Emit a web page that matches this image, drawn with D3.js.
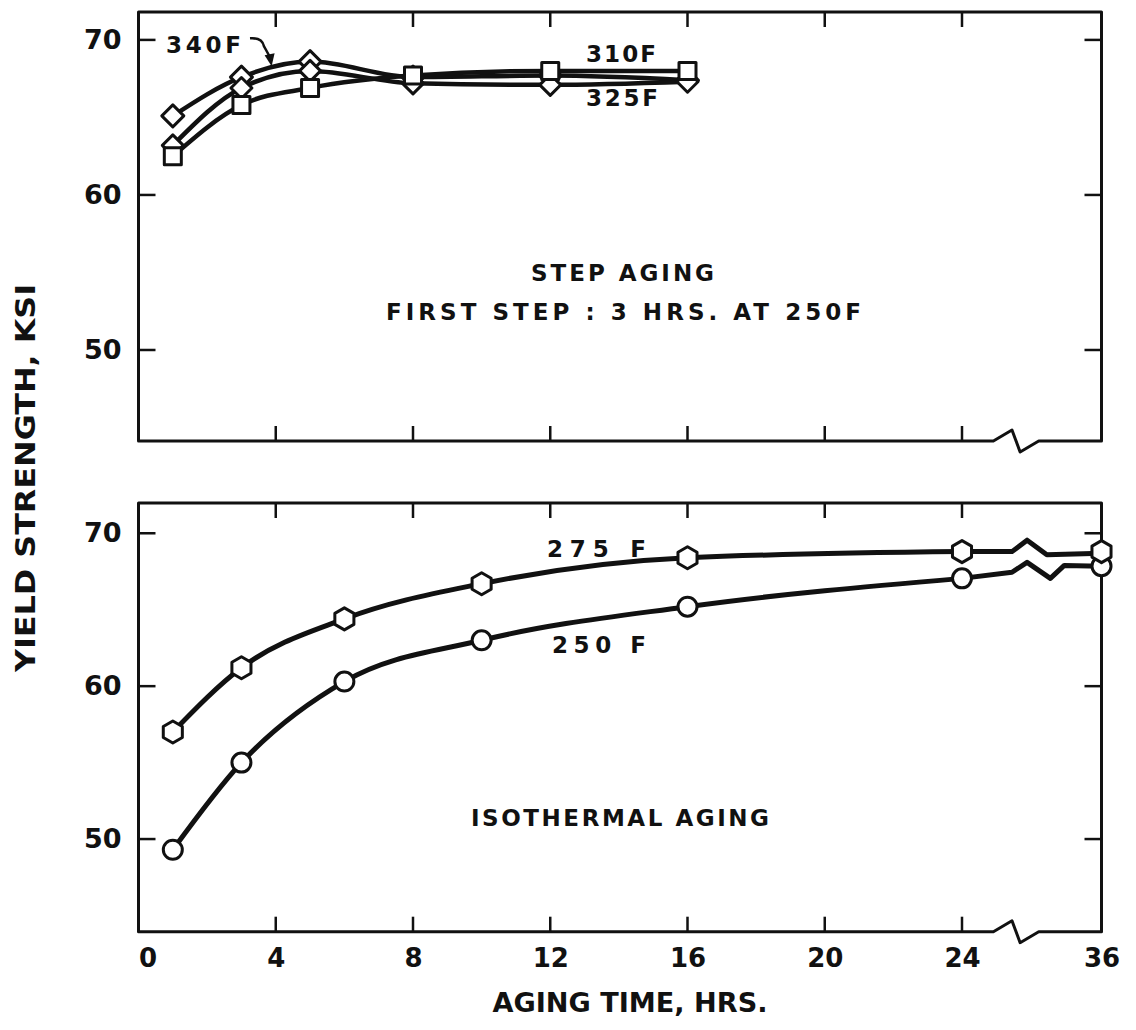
<!DOCTYPE html>
<html><head><meta charset="utf-8">
<script src="https://cdn.jsdelivr.net/npm/d3@7"></script>
<style>
body{margin:0;background:#fff}
svg{display:block}
text{font-family:"DejaVu Sans",sans-serif;font-weight:bold;fill:#111}
</style>
</head><body>
<svg id="c" width="1136" height="1030"></svg>
<script>
// ---------------- data ----------------
const xTickValues = [0, 4, 8, 12, 16, 20, 24, 36];
const xTickLabels = ["0", "4", "8", "12", "16", "20", "24", "36"];
const yTickValues = [50, 60, 70];
const yTickLabels = ["50", "60", "70"];

// step aging (top panel)
const stepHours = [1, 3, 5, 8, 12, 16];
const step340 = [65.1, 67.6, 68.6, 67.6, 67.7, 67.4];
const step325 = [63.2, 66.9, 68.0, 67.2, 67.1, 67.3];
const step310 = [62.5, 65.8, 66.9, 67.7, 68.0, 68.0];

// isothermal aging (bottom panel)
const isoHours = [1, 3, 6, 10, 16, 24, 36];
const iso275 = [57.0, 61.2, 64.4, 66.7, 68.4, 68.8, 68.8];
const iso250 = [49.3, 55.0, 60.3, 63.0, 65.2, 67.05, 67.85];

// curve segments across the axis break (24 -> 36 hrs)
const tailHours275 = [24, 28.3, 29.6, 31.3, 36];
const tail275 = [68.8, 68.8, 69.55, 68.6, 68.7];
const tailHours250 = [24, 28.3, 29.6, 31.6, 32.8, 36];
const tail250 = [67.05, 67.45, 68.1, 67.05, 67.9, 67.85];
const axisBreakHours = [26.7, 28.3, 29.0, 30.6];

// ---------------- drawing ----------------
const svg = d3.select("#c");
const x = d3.scaleLinear().domain([0, 24, 36]).range([138.5, 962, 1101.5]);
const yTop = d3.scaleLinear().domain([44.13, 71.8]).range([441, 12]);
const yBot = d3.scaleLinear().domain([43.94, 71.98]).range([931.7, 503]);

const INK = "#111";

function frame(y) {
  const [b, t] = y.range();
  const x0 = x(0), x1 = x(36);
  const bx = axisBreakHours.map(x);
  const p = d3.path();
  p.moveTo(x0, t); p.lineTo(x0, b);
  p.lineTo(bx[0], b);
  p.lineTo(bx[1], b - 11);
  p.lineTo(bx[2], b + 11);
  p.lineTo(bx[3], b);
  p.lineTo(x1, b); p.lineTo(x1, t); p.closePath();
  svg.append("path").attr("d", p.toString()).attr("fill", "none")
    .attr("stroke", INK).attr("stroke-width", 3).attr("stroke-linejoin", "round");

  const inner = xTickValues.filter(v => v > 0 && v < 36);
  const g = svg.append("g").attr("stroke", INK).attr("stroke-width", 2.5);
  inner.forEach(v => {
    g.append("line").attr("x1", x(v)).attr("x2", x(v)).attr("y1", b).attr("y2", b - 15);
    g.append("line").attr("x1", x(v)).attr("x2", x(v)).attr("y1", t).attr("y2", t + 15);
  });
  yTickValues.forEach(v => {
    g.append("line").attr("x1", x0).attr("x2", x0 + 17).attr("y1", y(v)).attr("y2", y(v));
    g.append("line").attr("x1", x1).attr("x2", x1 - 17).attr("y1", y(v)).attr("y2", y(v));
  });
  const ax = svg.append("g").attr("transform", `translate(${x0},0)`)
    .call(d3.axisLeft(y).tickValues(yTickValues).tickSize(0).tickPadding(17)
      .tickFormat((d, i) => yTickLabels[i]));
  ax.select(".domain").remove();
  ax.selectAll("text").attr("font-size", 27).attr("font-family", "DejaVu Sans")
    .attr("font-weight", "bold").attr("fill", INK);
}
frame(yTop);
frame(yBot);

// x tick labels
const xa = svg.append("g").attr("transform", `translate(0,${yBot.range()[0]})`)
  .call(d3.axisBottom(x).tickValues(xTickValues).tickSize(0).tickPadding(17)
    .tickFormat((d, i) => xTickLabels[i]));
xa.select(".domain").remove();
xa.selectAll("text").attr("font-size", 26).attr("font-family", "DejaVu Sans")
  .attr("font-weight", "bold").attr("fill", INK)
  .attr("dx", d => d === 0 ? 9 : 0);

// markers
function square(s) { return `M${-s},${-s}H${s}V${s}H${-s}Z`; }
function diamond(s) { return `M0,${-s}L${s},0L0,${s}L${-s},0Z`; }
function hexagon(r) {
  return d3.range(6).map(i => {
    const a = Math.PI / 3 * i + Math.PI / 6;
    return (i ? "L" : "M") + (r * Math.cos(a)).toFixed(2) + "," + (r * Math.sin(a)).toFixed(2);
  }).join("") + "Z";
}

function series(y, hours, vals, curve, width) {
  const pts = hours.map((h, i) => [h, vals[i]]);
  svg.append("path").datum(pts)
    .attr("d", d3.line().x(d => x(d[0])).y(d => y(d[1])).curve(curve))
    .attr("fill", "none").attr("stroke", INK).attr("stroke-width", width)
    .attr("stroke-linejoin", "round").attr("stroke-linecap", "round");
  return pts;
}
function markers(y, pts, shape) {
  svg.append("g").selectAll("path").data(pts).join("path")
    .attr("transform", d => `translate(${x(d[0])},${y(d[1])})`)
    .attr("d", shape).attr("fill", "#fff").attr("stroke", INK).attr("stroke-width", 3)
    .attr("stroke-linejoin", "round");
}

// top panel
const p340 = series(yTop, stepHours, step340, d3.curveMonotoneX, 4.5);
const p325 = series(yTop, stepHours, step325, d3.curveMonotoneX, 4.5);
const p310 = series(yTop, stepHours, step310, d3.curveMonotoneX, 4.5);
markers(yTop, p340, diamond(11));
markers(yTop, p325, diamond(10.5));
markers(yTop, p310, square(8.5));

// bottom panel
const n = isoHours.indexOf(24) + 1;
series(yBot, isoHours.slice(0, n), iso275.slice(0, n), d3.curveMonotoneX, 5);
series(yBot, isoHours.slice(0, n), iso250.slice(0, n), d3.curveMonotoneX, 5);
series(yBot, tailHours275, tail275, d3.curveLinear, 5);
series(yBot, tailHours250, tail250, d3.curveLinear, 5);
markers(yBot, isoHours.map((h, i) => [h, iso250[i]]), d3.symbol(d3.symbolCircle, Math.PI * 9.5 * 9.5)());
markers(yBot, isoHours.map((h, i) => [h, iso275[i]]), hexagon(11));

// text annotations
function label(str, xs, xe, yc, size) {
  svg.append("text").attr("x", xs).attr("y", yc).attr("dominant-baseline", "central")
    .attr("font-size", size).attr("textLength", xe - xs).attr("lengthAdjust", "spacing")
    .text(str);
}
label("340F", 166, 241, 45, 23);
label("310F", 586, 656, 54, 23);
label("325F", 586, 658, 98, 23);
label("STEP AGING", 531, 714, 273, 23);
label("FIRST STEP :  3 HRS. AT 250F", 386, 861, 312, 23);
label("275 F", 547, 646, 549, 23);
label("250 F", 552, 646, 645, 23);
label("ISOTHERMAL AGING", 471, 769, 818, 23);

// arrow for 340F
const ax0 = x(3.25), ay0 = yTop(70.1);
const tipX = x(3.85), tipY = yTop(68.3);
svg.append("path")
  .attr("d", `M${ax0},${ay0} Q${ax0 + 12},${ay0 - 1} ${ax0 + 14},${ay0 + 8} L${tipX},${tipY - 8}`)
  .attr("fill", "none").attr("stroke", INK).attr("stroke-width", 2.5);
svg.append("path")
  .attr("d", `M${tipX - 6},${tipY - 11} L${tipX + 1},${tipY} L${tipX + 4},${tipY - 13} Z`)
  .attr("fill", INK);

// axis titles
svg.append("text").attr("x", 630).attr("y", 1003).attr("text-anchor", "middle")
  .attr("dominant-baseline", "central").attr("font-size", 26)
  .attr("textLength", 275).attr("lengthAdjust", "spacingAndGlyphs").text("AGING TIME, HRS.");
svg.append("text").attr("transform", "translate(25,478) rotate(-90)").attr("text-anchor", "middle")
  .attr("dominant-baseline", "central").attr("font-size", 27)
  .attr("textLength", 388).attr("lengthAdjust", "spacingAndGlyphs").text("YIELD STRENGTH, KSI");
</script>
</body></html>
